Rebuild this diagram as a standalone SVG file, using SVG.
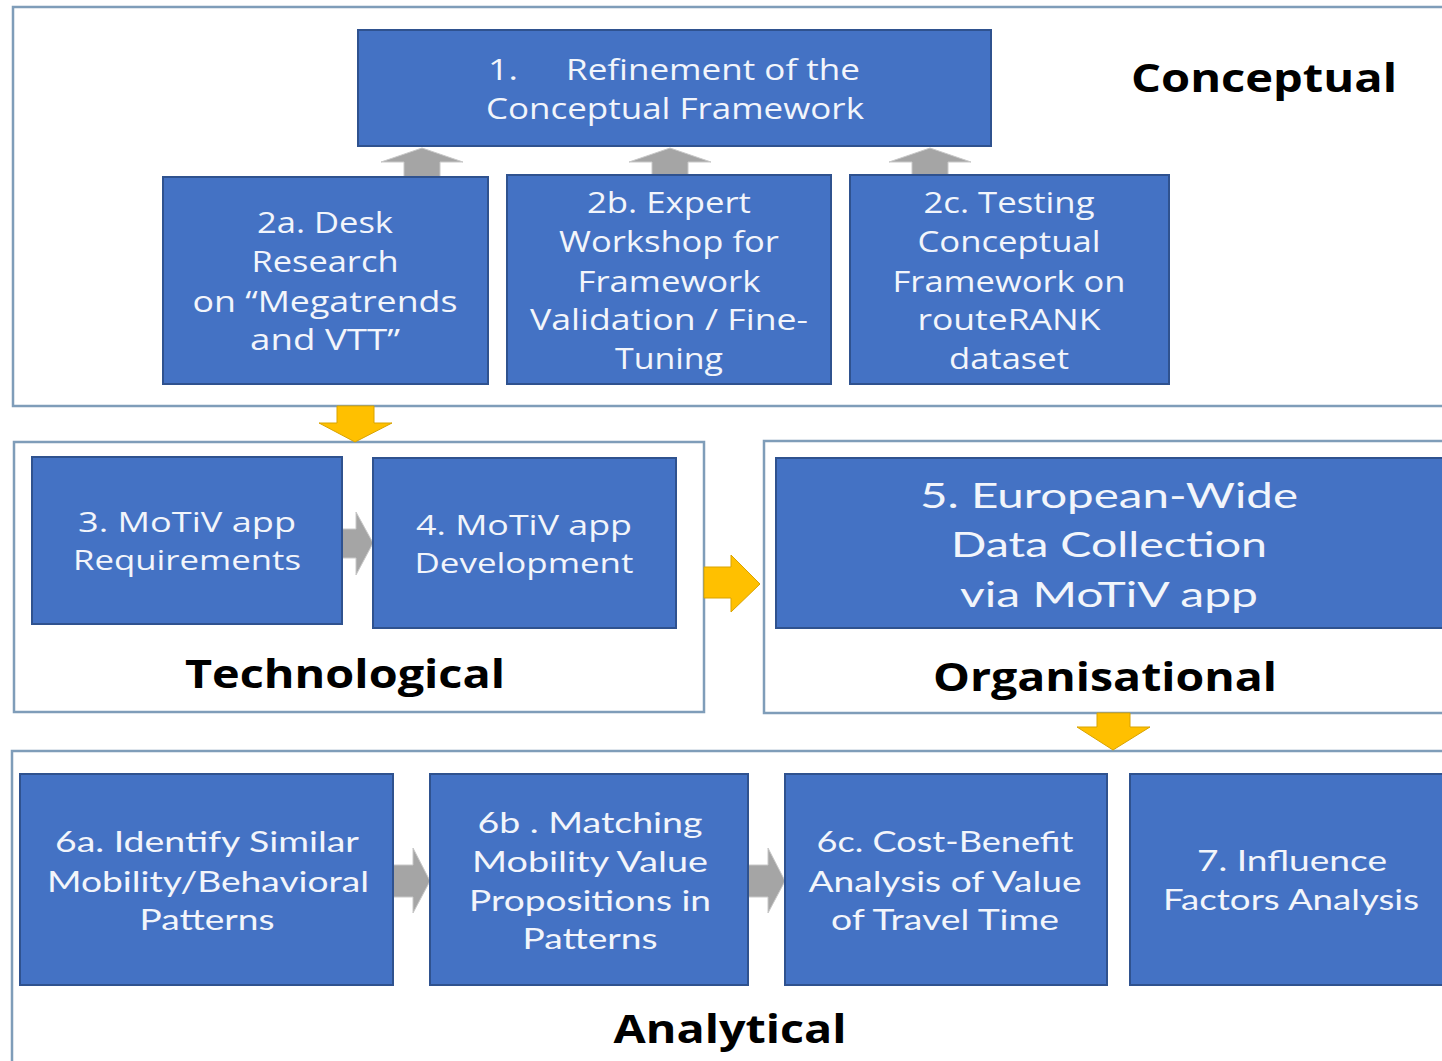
<svg xmlns="http://www.w3.org/2000/svg" width="1442" height="1061" viewBox="0 0 1442 1061">
<style>
.bg{fill:#ffffff}
.box{fill:#ffffff;stroke:#7f9db9;stroke-width:2.5}
.node{fill:#4472c4;stroke:#2f528f;stroke-width:2}
.t{fill:#f2f5fb;font-family:"Open Sans","Liberation Sans",sans-serif;text-anchor:middle}
.tn{fill:#f2f5fb;font-family:Lato,"Liberation Sans",sans-serif;text-anchor:middle}
.tl{fill:#f2f5fb;font-family:"Open Sans","Liberation Sans",sans-serif}
.lab{fill:#000000;font-family:"Open Sans","Liberation Sans",sans-serif;font-weight:bold;font-size:40px;text-anchor:middle}
.ga{fill:#a5a5a5;stroke:#c8c8c8;stroke-width:1}
.ya{fill:#ffc000;stroke:#d9a300;stroke-width:1}
</style>
<rect class="bg" x="0" y="0" width="1442" height="1061"/>
<g id="containers">
<rect class="box" x="13" y="7" width="1450" height="399"/>
<rect class="box" x="14" y="442" width="690" height="270"/>
<rect class="box" x="764" y="441" width="700" height="272"/>
<rect class="box" x="12" y="751" width="1450" height="330"/>
<text class="lab" x="1264" y="92" textLength="266" lengthAdjust="spacingAndGlyphs">Conceptual</text>
<text class="lab" x="345" y="688" textLength="320" lengthAdjust="spacingAndGlyphs">Technological</text>
<text class="lab" x="1105" y="691" textLength="344" lengthAdjust="spacingAndGlyphs">Organisational</text>
<text class="lab" x="730" y="1043" textLength="233" lengthAdjust="spacingAndGlyphs">Analytical</text>
</g>
<g id="connectors">
<polygon class="ga" points="422,148 463,162 440,162 440,177 404,177 404,162 381,162"/>
<polygon class="ga" points="670,148 711,162 688,162 688,176 652,176 652,162 629,162"/>
<polygon class="ga" points="930,148 971,162 948,162 948,176 912,176 912,162 889,162"/>
<polygon class="ya" points="337,406 374,406 374,423 392,423 355,442 319,423 337,423"/>
<polygon class="ga" points="342,529 356,529 356,512 373,543 356,575 356,558 342,558"/>
<polygon class="ya" points="704,567 731,567 731,555 760,584 731,612 731,598 704,598"/>
<polygon class="ya" points="1097,713 1130,713 1130,727 1150,727 1113,750 1077,727 1097,727"/>
<polygon class="ga" points="393,865 413,865 413,848 430,881 413,913 413,897 393,897"/>
<polygon class="ga" points="748,865 768,865 768,848 785,881 768,913 768,897 748,897"/>
</g>
<g id="n1">
<rect class="node" x="358" y="30" width="633" height="116"/>
<text class="tl" font-size="29"><tspan x="488" y="80" textLength="30" lengthAdjust="spacingAndGlyphs">1.</tspan><tspan x="566" y="80" textLength="294" lengthAdjust="spacingAndGlyphs">Refinement of the</tspan></text>
<text class="tl" font-size="29" x="486" y="119" textLength="378" lengthAdjust="spacingAndGlyphs">Conceptual Framework</text>
</g>
<g id="n2a">
<rect class="node" x="163" y="177" width="325" height="207"/>
<text class="t" font-size="29" x="325" y="233" textLength="136" lengthAdjust="spacingAndGlyphs">2a. Desk</text>
<text class="t" font-size="29" x="325" y="272" textLength="147" lengthAdjust="spacingAndGlyphs">Research</text>
<text class="t" font-size="29" x="325" y="312" textLength="265" lengthAdjust="spacingAndGlyphs">on “Megatrends</text>
<text class="t" font-size="29" x="325" y="350" textLength="150" lengthAdjust="spacingAndGlyphs">and VTT”</text>
</g>
<g id="n2b">
<rect class="node" x="507" y="175" width="324" height="209"/>
<text class="t" font-size="29" x="669" y="213" textLength="164" lengthAdjust="spacingAndGlyphs">2b. Expert</text>
<text class="t" font-size="29" x="669" y="252" textLength="220" lengthAdjust="spacingAndGlyphs">Workshop for</text>
<text class="t" font-size="29" x="669" y="292" textLength="183" lengthAdjust="spacingAndGlyphs">Framework</text>
<text class="t" font-size="29" x="669" y="330" textLength="278" lengthAdjust="spacingAndGlyphs">Validation / Fine-</text>
<text class="t" font-size="29" x="669" y="369" textLength="108" lengthAdjust="spacingAndGlyphs">Tuning</text>
</g>
<g id="n2c">
<rect class="node" x="850" y="175" width="319" height="209"/>
<text class="t" font-size="29" x="1009" y="213" textLength="171" lengthAdjust="spacingAndGlyphs">2c. Testing</text>
<text class="t" font-size="29" x="1009" y="252" textLength="183" lengthAdjust="spacingAndGlyphs">Conceptual</text>
<text class="t" font-size="29" x="1009" y="292" textLength="233" lengthAdjust="spacingAndGlyphs">Framework on</text>
<text class="t" font-size="29" x="1009" y="330" textLength="183" lengthAdjust="spacingAndGlyphs">routeRANK</text>
<text class="t" font-size="29" x="1009" y="369" textLength="120" lengthAdjust="spacingAndGlyphs">dataset</text>
</g>
<g id="n3">
<rect class="node" x="32" y="457" width="310" height="167"/>
<text class="t" font-size="27" x="187" y="532" textLength="218" lengthAdjust="spacingAndGlyphs">3. MoTiV app</text>
<text class="t" font-size="27" x="187" y="570" textLength="228" lengthAdjust="spacingAndGlyphs">Requirements</text>
</g>
<g id="n4">
<rect class="node" x="373" y="458" width="303" height="170"/>
<text class="t" font-size="27" x="524" y="535" textLength="216" lengthAdjust="spacingAndGlyphs">4. MoTiV app</text>
<text class="t" font-size="27" x="524" y="573" textLength="219" lengthAdjust="spacingAndGlyphs">Development</text>
</g>
<g id="n5">
<rect class="node" x="776" y="458" width="680" height="170"/>
<text class="tn" font-size="35" x="1109" y="508" textLength="378" lengthAdjust="spacingAndGlyphs">5. European-Wide</text>
<text class="tn" font-size="35" x="1109" y="557" textLength="316" lengthAdjust="spacingAndGlyphs">Data Collection</text>
<text class="tn" font-size="35" x="1109" y="607" textLength="298" lengthAdjust="spacingAndGlyphs">via MoTiV app</text>
</g>
<g id="n6a">
<rect class="node" x="20" y="774" width="373" height="211"/>
<text class="tn" font-size="28" x="207" y="852" textLength="304" lengthAdjust="spacingAndGlyphs">6a. Identify Similar</text>
<text class="tn" font-size="28" x="208" y="892" textLength="322" lengthAdjust="spacingAndGlyphs">Mobility/Behavioral</text>
<text class="tn" font-size="28" x="207" y="930" textLength="135" lengthAdjust="spacingAndGlyphs">Patterns</text>
</g>
<g id="n6b">
<rect class="node" x="430" y="774" width="318" height="211"/>
<text class="tn" font-size="28" x="590" y="833" textLength="225" lengthAdjust="spacingAndGlyphs">6b . Matching</text>
<text class="tn" font-size="28" x="590" y="872" textLength="236" lengthAdjust="spacingAndGlyphs">Mobility Value</text>
<text class="tn" font-size="28" x="590" y="911" textLength="242" lengthAdjust="spacingAndGlyphs">Propositions in</text>
<text class="tn" font-size="28" x="590" y="949" textLength="135" lengthAdjust="spacingAndGlyphs">Patterns</text>
</g>
<g id="n6c">
<rect class="node" x="785" y="774" width="322" height="211"/>
<text class="tn" font-size="28" x="945" y="852" textLength="257" lengthAdjust="spacingAndGlyphs">6c. Cost-Benefit</text>
<text class="tn" font-size="28" x="945" y="892" textLength="273" lengthAdjust="spacingAndGlyphs">Analysis of Value</text>
<text class="tn" font-size="28" x="945" y="930" textLength="228" lengthAdjust="spacingAndGlyphs">of Travel Time</text>
</g>
<g id="n7">
<rect class="node" x="1130" y="774" width="330" height="211"/>
<text class="tn" font-size="28" x="1292" y="871" textLength="190" lengthAdjust="spacingAndGlyphs">7. Influence</text>
<text class="tn" font-size="28" x="1291" y="910" textLength="256" lengthAdjust="spacingAndGlyphs">Factors Analysis</text>
</g>
</svg>
